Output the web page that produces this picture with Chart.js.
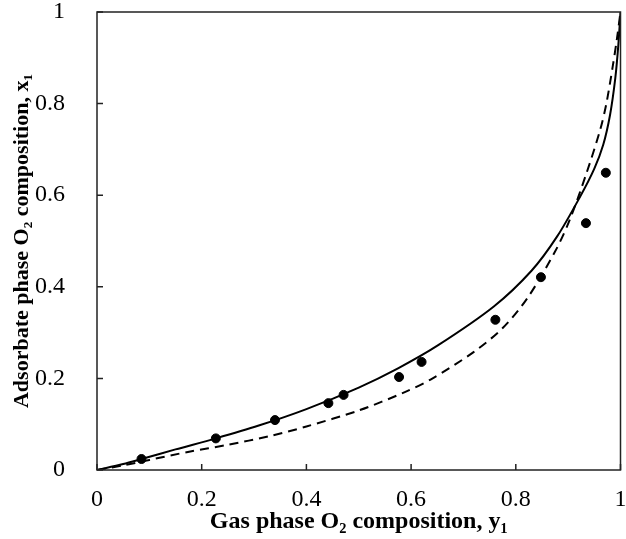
<!DOCTYPE html>
<html>
<head>
<meta charset="utf-8">
<script src="https://cdn.jsdelivr.net/npm/chart.js@4/dist/chart.umd.min.js"></script>
<style>
  html, body { margin: 0; padding: 0; background: #fff; }
  #wrap { width: 626px; height: 539px; }
</style>
</head>
<body>
<div id="wrap"><canvas id="chart"></canvas></div>
<script>
// experimental points (gas phase y1, adsorbate phase x1)
var expY1 = [0.085, 0.227, 0.340, 0.442, 0.471, 0.577, 0.620, 0.761, 0.848, 0.934, 0.972];
var expX1 = [0.024, 0.069, 0.109, 0.146, 0.164, 0.203, 0.236, 0.328, 0.421, 0.539, 0.649];

// solid model curve
var solidY1 = [0, 0.05, 0.085, 0.15, 0.227, 0.309, 0.40, 0.50, 0.575, 0.651, 0.758, 0.83, 0.879, 0.923, 0.95, 0.967, 0.98, 0.99, 0.996, 1];
var solidX1 = [0, 0.013, 0.024, 0.045, 0.069, 0.097, 0.133, 0.180, 0.222, 0.272, 0.357, 0.435, 0.510, 0.597, 0.658, 0.710, 0.775, 0.855, 0.930, 1];

// dashed model curve
var dashY1 = [0, 0.05, 0.10, 0.176, 0.25, 0.33, 0.40, 0.50, 0.588, 0.638, 0.72, 0.775, 0.822, 0.875, 0.903, 0.935, 0.961, 0.973, 0.985, 0.993, 1];
var dashX1 = [0, 0.010, 0.022, 0.040, 0.055, 0.074, 0.095, 0.130, 0.170, 0.198, 0.258, 0.310, 0.375, 0.477, 0.546, 0.648, 0.742, 0.800, 0.880, 0.940, 1];

var tickVals = [0, 0.2, 0.4, 0.6, 0.8, 1];

function pts(xs, ys) {
  return xs.map(function (x, i) { return { x: x, y: ys[i] }; });
}

// box around plot + inward tick marks
var frame = {
  id: 'frame',
  afterDraw: function (chart) {
    var c = chart.ctx, a = chart.chartArea;
    var sx = chart.scales.x, sy = chart.scales.y;
    c.save();
    c.strokeStyle = '#222';
    c.lineWidth = 1.5;
    c.strokeRect(a.left, a.top, a.right - a.left, a.bottom - a.top);
    c.beginPath();
    tickVals.forEach(function (v) {
      var px = sx.getPixelForValue(v);
      c.moveTo(px, a.bottom);
      c.lineTo(px, a.bottom - 6);
      var py = sy.getPixelForValue(v);
      c.moveTo(a.left, py);
      c.lineTo(a.left + 6, py);
    });
    c.stroke();
    c.restore();
  }
};

var serif = "'Liberation Serif', 'Times New Roman', serif";

function fixedTicks(s) {
  s.ticks = tickVals.map(function (v) { return { value: v }; });
}

new Chart(document.getElementById('chart'), {
  type: 'scatter',
  data: {
    datasets: [
      {
        label: 'Solid',
        data: pts(solidY1, solidX1),
        showLine: true,
        borderColor: '#000',
        borderWidth: 2,
        pointRadius: 0,
        tension: 0.3
      },
      {
        label: 'Dashed',
        data: pts(dashY1, dashX1),
        showLine: true,
        borderColor: '#000',
        borderWidth: 2,
        borderDash: [9, 6],
        pointRadius: 0,
        tension: 0.3
      },
      {
        label: 'Experiment',
        data: pts(expY1, expX1),
        showLine: false,
        pointRadius: 4.5,
        pointBackgroundColor: '#000',
        pointBorderColor: '#000'
      }
    ]
  },
  options: {
    responsive: true,
    maintainAspectRatio: false,
    animation: false,
    layout: { padding: { top: 12, right: 2, left: 0, bottom: 0 } },
    plugins: { legend: { display: false }, tooltip: { enabled: false } },
    scales: {
      x: {
        type: 'linear', min: 0, max: 1,
        afterBuildTicks: fixedTicks,
        afterFit: function (s) { s.height = 69; s.paddingLeft = 0; s.paddingRight = 0; },
        grid: { display: false },
        border: { display: false },
        ticks: {
          color: '#000', padding: 7, maxRotation: 0,
          font: { family: serif, size: 24 },
          callback: function (v) { return String(v); }
        },
        title: {
          display: true, text: 'Gas phase O\u2082 composition, y\u2081', color: '#000',
          font: { family: serif, size: 24, weight: 'bold' }, padding: { top: 0, bottom: 3 }
        }
      },
      y: {
        type: 'linear', min: 0, max: 1,
        afterBuildTicks: fixedTicks,
        afterFit: function (s) { s.width = 97; s.paddingTop = 0; s.paddingBottom = 0; },
        grid: { display: false },
        border: { display: false },
        ticks: {
          color: '#000', padding: 24,
          font: { family: serif, size: 24 },
          callback: function (v) { return String(v); }
        },
        title: {
          display: true, text: 'Adsorbate phase O\u2082 composition, x\u2081', color: '#000',
          font: { family: serif, size: 22, weight: 'bold' }, padding: { top: 9, bottom: 0 }
        }
      }
    }
  },
  plugins: [frame]
});
</script>
</body>
</html>
